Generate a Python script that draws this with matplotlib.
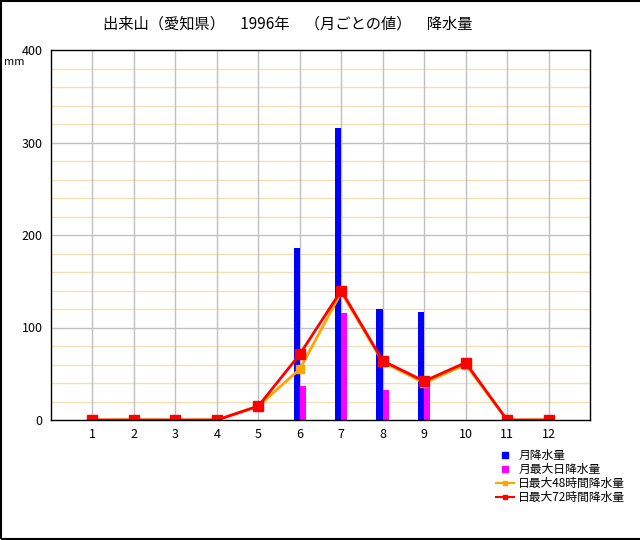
import matplotlib
matplotlib.use("Agg")
import matplotlib.pyplot as plt
from matplotlib.lines import Line2D

plt.rcParams['font.family'] = ['Noto Sans CJK JP', 'DejaVu Sans']

months = [1, 2, 3, 4, 5, 6, 7, 8, 9, 10, 11, 12]
monthly_rain = [0, 0, 0, 0, 0, 186, 316, 120, 117, 0, 0, 0]
max_daily = [0, 0, 0, 0, 0, 37, 116, 32, 36, 0, 0, 0]
max_48h = [0, 0, 0, 0, 15, 55, 138, 63, 40, 60, 0, 0]
max_72h = [0, 0, 0, 0, 15, 71, 140, 64, 42, 62, 0, 0]

title = "出来山（愛知県）　1996年　（月ごとの値）　降水量"
labels = ["月降水量", "月最大日降水量", "日最大48時間降水量", "日最大72時間降水量"]

fig = plt.figure(figsize=(6.4, 5.4), dpi=100)
ax = fig.add_axes([51 / 640, 1 - 420 / 540, 539 / 640, 370 / 540])

w = 0.15
mb = [m - w / 2 for m in months]
md = [m + w / 2 for m in months]
ax.bar(mb, monthly_rain, width=w, color='#0000ff', zorder=3)
ax.bar(md, max_daily, width=w, color='#ff00ff', zorder=3)
ax.plot(months, max_48h, color='orange', lw=2, marker='s', ms=6, zorder=4)
ax.plot(months, max_72h, color='red', lw=2, marker='s', ms=7, zorder=5)

ax.set_xlim(0, 13)
ax.set_ylim(0, 400)
ax.set_xticks(months)
ax.set_yticks([0, 100, 200, 300, 400])
for y in range(20, 400, 20):
    if y % 100:
        ax.axhline(y, color='#f5deb3', lw=1, zorder=1)
    else:
        ax.axhline(y, color='#c0c0c0', lw=1, zorder=1)
for m in months:
    ax.axvline(m, color='#c0c0c0', lw=1, zorder=1)
ax.tick_params(length=0, labelsize=9, pad=6)
for s in ax.spines.values():
    s.set_linewidth(1)
ax.spines['bottom'].set_zorder(6)

fig.text(288 / 640, 1 - 24 / 540, title, ha='center', va='center', fontsize=11)
fig.text(14 / 640, 1 - 62 / 540, "mm", ha='center', va='center', fontsize=8)

handles = [
    Line2D([], [], ls='none', marker='s', color='#0000ff', ms=5),
    Line2D([], [], ls='none', marker='s', color='#ff00ff', ms=5),
    Line2D([], [], color='orange', lw=1.5, marker='s', ms=3),
    Line2D([], [], color='red', lw=1.5, marker='s', ms=3),
]
fig.legend(handles, labels, loc='upper left', bbox_to_anchor=(490 / 640, 1 - 443 / 540),
           frameon=False, fontsize=8.5, handlelength=1.5, handletextpad=0.4,
           labelspacing=0.1, borderpad=0)

fig.add_artist(plt.Rectangle((0.0008, 0.001), 1.2, 0.9975, transform=fig.transFigure,
                             fill=False, ec='black', lw=1.5))

fig.savefig("out.png", dpi=100)
